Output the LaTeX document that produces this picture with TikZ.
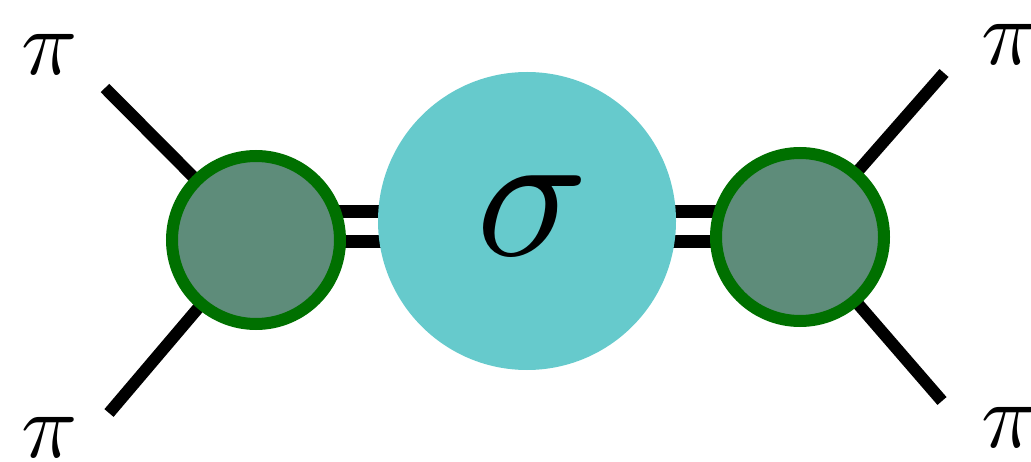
\documentclass[tikz,border=0pt]{standalone}
\definecolor{vgreen}{HTML}{007000}
\definecolor{vfill}{HTML}{5E8C7A}
\definecolor{scyan}{HTML}{66CACC}
\tikzset{
  vertex/.style={circle,draw=vgreen,line width=12pt,fill=vfill,minimum size=168pt,inner sep=0pt},
  blob/.style={circle,fill=scyan,minimum size=298pt,inner sep=0pt},
  leg/.style={line width=12pt,black},
  rung/.style={line width=13pt,black},
  plabel/.style={inner sep=0pt,anchor=base,scale=9.3},
  slabel/.style={inner sep=0pt,anchor=base,scale=18.5}
}
\begin{document}
\begin{tikzpicture}[x=1pt,y=-1pt]
\useasboundingbox (0,0) rectangle (1031,462);
% coordinates for free leg ends and centres
\coordinate (a1) at (105,88);
\coordinate (a2) at (109,413);
\coordinate (b1) at (944,73);
\coordinate (b2) at (942,401);
\coordinate (Lc) at (256,240);
\coordinate (Rc) at (800,237);
\coordinate (Sc) at (527,221);
% legs and rungs (behind)
\draw[leg] (a1) -- (Lc);
\draw[leg] (a2) -- (Lc);
\draw[leg] (b1) -- (Rc);
\draw[leg] (b2) -- (Rc);
\draw[rung] (Lc |- 0,211.5) -- (Sc |- 0,211.5);
\draw[rung] (Lc |- 0,241.5) -- (Sc |- 0,241.5);
\draw[rung] (Sc |- 0,211.5) -- (Rc |- 0,211.5);
\draw[rung] (Sc |- 0,241.5) -- (Rc |- 0,241.5);
% nodes
\node[vertex] (L) at (Lc) {};
\node[vertex] (R) at (Rc) {};
\node[blob] (S) at (Sc) {};
\node[slabel] (sig) at (533,256) {$\sigma$};
\node[plabel] (p1) at (50,75) {$\pi$};
\node[plabel] (p2) at (50,457) {$\pi$};
\node[plabel] (p3) at (1010,65) {$\pi$};
\node[plabel] (p4) at (1010,447) {$\pi$};
\end{tikzpicture}
\end{document}
